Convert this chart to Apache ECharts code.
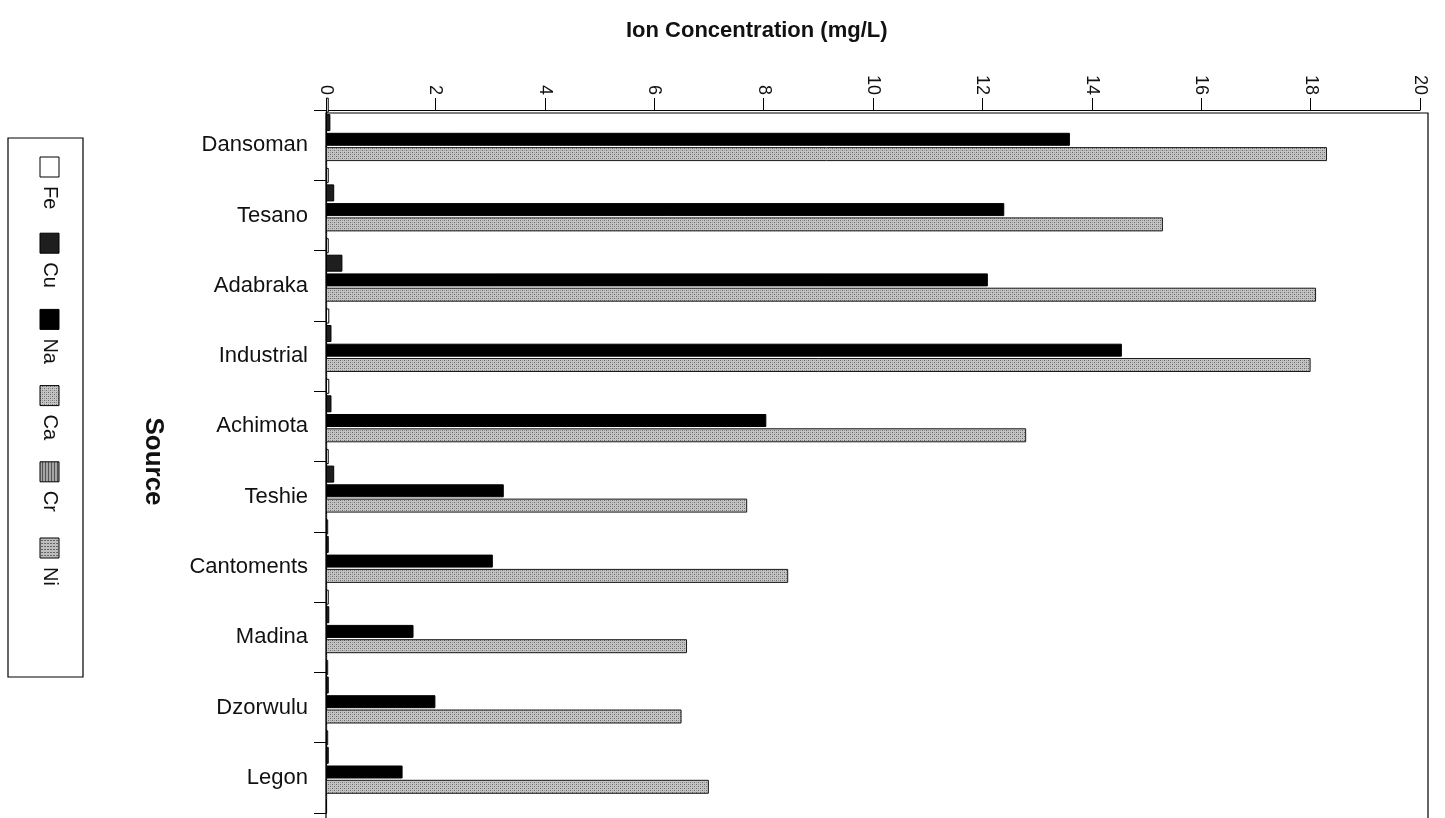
<!DOCTYPE html>
<html>
<head>
<meta charset="utf-8">
<script src="https://cdn.jsdelivr.net/npm/echarts@6/dist/echarts.min.js"></script>
<style>
  html, body { margin: 0; padding: 0; background: #ffffff; }
  #chart { width: 1445px; height: 818px; }
</style>
</head>
<body>
<div id="chart"></div>
<script>
// Sampling sites (top to bottom) and the ions measured at each
const categories = ['Dansoman', 'Tesano', 'Adabraka', 'Industrial', 'Achimota',
                    'Teshie', 'Cantoments', 'Madina', 'Dzorwulu', 'Legon'];
const ions = ['Fe', 'Cu', 'Na', 'Ca', 'Cr', 'Ni'];

// Ion concentrations, mg/L, one value per site
const fe = [0.05, 0.05, 0.05, 0.06, 0.06, 0.05, 0.04, 0.05, 0.04, 0.04];
const cu = [0.08, 0.15, 0.30, 0.10, 0.10, 0.15, 0.05, 0.06, 0.05, 0.05];
const na = [13.6, 12.4, 12.1, 14.55, 8.05, 3.25, 3.05, 1.6, 2.0, 1.4];
const ca = [18.3, 15.3, 18.1, 18.0, 12.8, 7.7, 8.45, 6.6, 6.5, 7.0];
const cr = [0.02, 0.02, 0.02, 0.02, 0.02, 0.02, 0.02, 0.02, 0.02, 0.02];
const ni = [0.02, 0.02, 0.02, 0.02, 0.02, 0.02, 0.02, 0.02, 0.02, 0.02];

// Value axis ticks
const xMin = 0, xMax = 20, xStep = 2;

const FONT = '"Liberation Sans", Arial, Helvetica, sans-serif';

// Small repeating fills for the grey ion bars
function makePattern(w, h, draw) {
  const c = document.createElement('canvas');
  c.width = w; c.height = h;
  const g = c.getContext('2d');
  draw(g);
  return { image: c, repeat: 'repeat' };
}
const caFill = makePattern(4, 4, g => {
  g.fillStyle = '#c4c4c4'; g.fillRect(0, 0, 4, 4);
  g.fillStyle = '#6a6a6a'; g.fillRect(0, 0, 1, 1); g.fillRect(2, 2, 1, 1);
  g.fillStyle = '#999999'; g.fillRect(2, 0, 1, 1); g.fillRect(0, 2, 1, 1);
});
const crFill = makePattern(3, 3, g => {
  g.fillStyle = '#a6a6a6'; g.fillRect(0, 0, 3, 3);
  g.fillStyle = '#555555'; g.fillRect(0, 0, 1, 3);
});
const niFill = makePattern(3, 3, g => {
  g.fillStyle = '#bdbdbd'; g.fillRect(0, 0, 3, 3);
  g.fillStyle = '#666666'; g.fillRect(0, 0, 1, 1); g.fillRect(2, 0, 1, 1);
});

const seriesValues = [fe, cu, na, ca, cr, ni];
const seriesFill = ['#ffffff', '#1e1e1e', '#000000', caFill, crFill, niFill];
const seriesBorder = ['#000000', '#000000', '#000000', '#1a1a1a', '#333333', '#333333'];
const seriesWidth = [15, 17, 13, 14, 2, 2];

const chart = echarts.init(document.getElementById('chart'), null, { renderer: 'canvas' });

// Legend drawn as a rotated column at the left edge
const legendItems = [];
legendItems.push({
  type: 'rect',
  shape: { x: 8, y: 138, width: 75, height: 539 },
  style: { fill: '#ffffff', stroke: '#000000', lineWidth: 1.2 }
});
ions.forEach((name, i) => {
  const y0 = 157 + i * 76.2;
  legendItems.push({
    type: 'rect',
    shape: { x: 40, y: y0, width: 19, height: 20 },
    style: { fill: seriesFill[i], stroke: '#000000', lineWidth: 1 }
  });
  legendItems.push({
    type: 'text',
    x: 50, y: y0 + 29,
    rotation: -Math.PI / 2,
    style: {
      text: name, font: '20px ' + FONT, fill: '#111111',
      align: 'left', verticalAlign: 'middle',
      textAlign: 'left', textVerticalAlign: 'middle'
    }
  });
});

const option = {
  backgroundColor: '#ffffff',
  animation: false,
  title: {
    text: 'Ion Concentration (mg/L)',
    left: 621, top: 15,
    textStyle: { fontFamily: FONT, fontSize: 22, fontWeight: 'bold', color: '#111111' }
  },
  grid: [
    // visible axes
    { left: 326, top: 110, width: 1094, height: 703 },
    // bars, lifted slightly as in the perspective layout
    { left: 326, top: 97, width: 1094, height: 703 }
  ],
  xAxis: [
    {
      gridIndex: 0, type: 'value', position: 'top',
      min: xMin, max: xMax, interval: xStep,
      axisLine: { show: true, lineStyle: { color: '#000000', width: 1.2 } },
      axisTick: { show: true, inside: false, length: 12, lineStyle: { color: '#000000' } },
      axisLabel: { rotate: 90, margin: 15, fontFamily: FONT, fontSize: 18, color: '#111111' },
      splitLine: { show: false }
    },
    {
      gridIndex: 1, type: 'value', min: xMin, max: xMax, interval: xStep,
      show: false
    }
  ],
  yAxis: [
    {
      gridIndex: 0, type: 'category', data: categories, inverse: true,
      axisLine: { show: true, lineStyle: { color: '#000000', width: 1.2 } },
      axisTick: { show: true, length: 12, lineStyle: { color: '#000000' } },
      axisLabel: { margin: 18, fontFamily: FONT, fontSize: 22, color: '#111111' },
      name: 'Source', nameLocation: 'middle', nameRotate: -90, nameGap: 160,
      nameTextStyle: { fontFamily: FONT, fontSize: 26, fontWeight: 'bold', color: '#111111' }
    },
    {
      gridIndex: 1, type: 'category', data: categories, inverse: true, show: false
    }
  ],
  graphic: [
    {
      type: 'rect', z: 0,
      shape: { x: 326, y: 113, width: 1102, height: 720 },
      style: { fill: 'none', stroke: '#000000', lineWidth: 1.2 }
    },
    { type: 'group', children: legendItems }
  ],
  series: ions.map((name, i) => ({
    name: name,
    type: 'bar',
    xAxisIndex: 1, yAxisIndex: 1,
    data: seriesValues[i],
    barWidth: seriesWidth[i],
    barGap: '10%',
    itemStyle: { color: seriesFill[i], borderColor: seriesBorder[i], borderWidth: 1 },
    emphasis: { disabled: true }
  }))
};

chart.setOption(option);
</script>
</body>
</html>
